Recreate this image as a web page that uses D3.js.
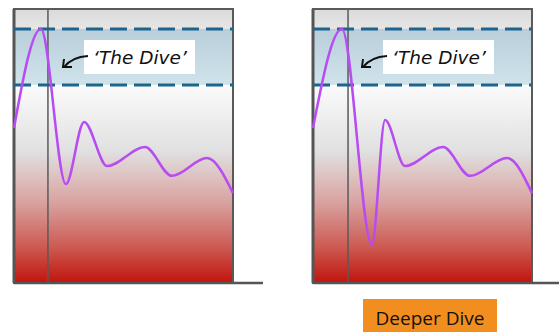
<!DOCTYPE html>
<html><head><meta charset="utf-8">
<script src="https://cdn.jsdelivr.net/npm/d3@7"></script>
<style>body{margin:0;background:#fff}svg{display:block}</style>
</head><body>
<script>
// Data (time 0-100, value 0-100)
const timeLeft  = [0, 12.3, 23.7, 32.0, 42.5, 59.8, 72.1, 88.1, 100];
const valueLeft = [56.6, 92.7, 36.1, 58.8, 42.7, 49.6, 39.1, 45.6, 32.8];
const timeRight  = [0, 13.2, 26.9, 32.9, 42.0, 59.4, 71.7, 88.6, 100];
const valueRight = [56.6, 92.7, 13.9, 59.5, 42.7, 49.6, 39.1, 45.6, 32.8];
const bandLevels = [72.3, 92.7];   // dashed lines (zone of "the dive")
const markerTime = [15.5, 16.0];   // vertical line per panel
const labels = ["\u2018The Dive\u2019", "Deeper Dive"];

const W = 559, H = 332;
const svg = d3.select("body").append("svg").attr("width", W).attr("height", H);
const defs = svg.append("defs");

function grad(id, stops){
  const g = defs.append("linearGradient").attr("id", id).attr("x1",0).attr("y1",0).attr("x2",0).attr("y2",1);
  stops.forEach(s => g.append("stop").attr("offset", s[0]).attr("stop-color", s[1]));
}
grad("gTop", [[0,"#dadada"],[1,"#e6e6e6"]]);
grad("gBand", [[0,"#b8ceda"],[1,"#d0e3eb"]]);
grad("gLow", [[0,"#fbfbfb"],[0.33,"#e1e1e1"],[0.58,"#d9a6a4"],[0.82,"#cc5a52"],[1,"#c0140b"]]);

const panels = [
  {x0: 14, x1: 233, axisEnd: 263, t: timeLeft, v: valueLeft, m: markerTime[0]},
  {x0: 313, x1: 532, axisEnd: 559, t: timeRight, v: valueRight, m: markerTime[1]}
];
const yTop = 9, yBottom = 283;

panels.forEach((p, i) => {
  const x = d3.scaleLinear().domain([0,100]).range([p.x0, p.x1]);
  const y = d3.scaleLinear().domain([0,100]).range([yBottom, yTop]);
  const g = svg.append("g");
  const yHi = y(bandLevels[1]), yLo = y(bandLevels[0]);
  g.append("rect").attr("x", p.x0).attr("y", yTop).attr("width", p.x1-p.x0).attr("height", yHi-yTop).attr("fill","url(#gTop)");
  g.append("rect").attr("x", p.x0).attr("y", yHi).attr("width", p.x1-p.x0).attr("height", yLo-yHi).attr("fill","url(#gBand)");
  g.append("rect").attr("x", p.x0).attr("y", yLo).attr("width", p.x1-p.x0).attr("height", yBottom-yLo).attr("fill","url(#gLow)");
  // frame
  g.append("rect").attr("x", p.x0).attr("y", yTop).attr("width", p.x1-p.x0).attr("height", yBottom-yTop)
    .attr("fill","none").attr("stroke","#5a5a5a").attr("stroke-width",2);
  g.append("line").attr("x1", p.x0).attr("x2", p.x0).attr("y1", yTop).attr("y2", yBottom)
    .attr("stroke","#555").attr("stroke-width",3);
  // marker vertical
  g.append("line").attr("x1", x(p.m)).attr("x2", x(p.m)).attr("y1", yTop).attr("y2", yBottom)
    .attr("stroke","#5a5a5a").attr("stroke-width",1.5);
  // axis line
  g.append("line").attr("x1", p.x0).attr("x2", p.axisEnd).attr("y1", yBottom).attr("y2", yBottom)
    .attr("stroke","#555").attr("stroke-width",2.5);
  // dashed lines
  bandLevels.forEach(b => {
    g.append("line").attr("x1", p.x0).attr("x2", p.x1).attr("y1", y(b)).attr("y2", y(b))
      .attr("stroke","#1d6591").attr("stroke-width",3).attr("stroke-dasharray","17,7");
  });
  // annotation
  const bx = p.x0 + 70, by = 40;
  g.append("rect").attr("x", bx).attr("y", by).attr("width", 111).attr("height", 34).attr("fill","#fff");
  g.append("text").attr("x", bx + 9).attr("y", by + 24).text(labels[0])
    .attr("font-family","'DejaVu Sans', sans-serif").attr("font-style","italic")
    .attr("font-size",18.5).attr("fill","#111");
  g.append("path").attr("d", `M${bx+4},${by+16} Q${bx-12},${by+17} ${bx-20},${by+27}`)
    .attr("fill","none").attr("stroke","#111").attr("stroke-width",2);
  g.append("path").attr("d", `M${bx-20},${by+19} L${bx-21},${by+27} L${bx-12},${by+27}`)
    .attr("fill","none").attr("stroke","#111").attr("stroke-width",2);
  // curve
  const line = d3.line().x(d => x(d[0])).y(d => y(d[1])).curve(d3.curveMonotoneX);
  g.append("path").datum(p.t.map((t,k) => [t, p.v[k]])).attr("d", line)
    .attr("fill","none").attr("stroke","#b64cf2").attr("stroke-width",2.5);
});

// Deeper Dive label
svg.append("rect").attr("x", 363).attr("y", 299).attr("width", 134).attr("height", 33).attr("fill","#f28e1f");
svg.append("text").attr("x", 430).attr("y", 325).attr("text-anchor","middle").text(labels[1])
  .attr("font-family","'Open Sans', sans-serif").attr("font-size",19).attr("fill","#111");
</script>
</body></html>
